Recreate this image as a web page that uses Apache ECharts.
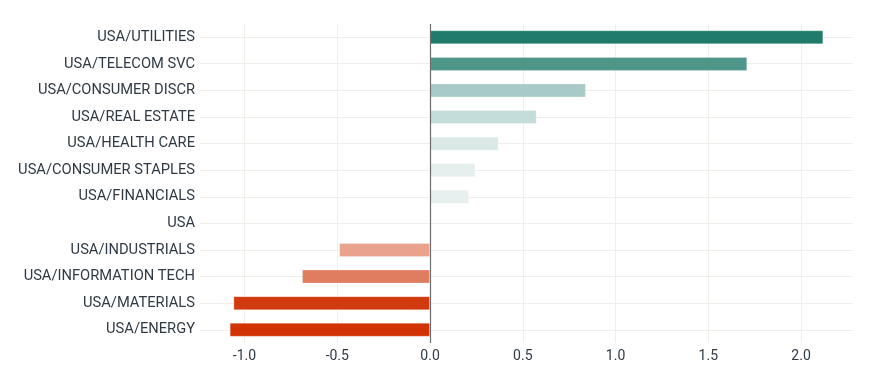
<!DOCTYPE html>
<html>
<head>
<meta charset="utf-8">
<script src="https://cdn.jsdelivr.net/npm/echarts@6/dist/echarts.min.js"></script>
<style>html,body{margin:0;padding:0;background:#fff;}#chart{width:870px;height:384px;}</style>
</head>
<body>
<div id="chart"></div>
<script>
var categories = ['USA/UTILITIES','USA/TELECOM SVC','USA/CONSUMER DISCR','USA/REAL ESTATE','USA/HEALTH CARE','USA/CONSUMER STAPLES','USA/FINANCIALS','USA','USA/INDUSTRIALS','USA/INFORMATION TECH','USA/MATERIALS','USA/ENERGY'];
var values = [2.12, 1.71, 0.84, 0.575, 0.37, 0.245, 0.21, 0, -0.49, -0.69, -1.06, -1.08];
var colors = ['#217b6d','#4f968a','#a8cbc7','#c5ddda','#dae8e7','#e4efee','#e7f0ef','#e7f0ef','#e9a28c','#e07c5f','#d13a0e','#d13304'];
var tickFont = 'Roboto, "DejaVu Sans", sans-serif';

var chart = echarts.init(document.getElementById('chart'), null, {renderer: 'canvas'});
chart.setOption({
  animation: false,
  backgroundColor: '#ffffff',
  grid: [
    {left: 200, right: 17, top: 24, bottom: 41},
    {left: 200, right: 17, top: 37, bottom: 54}
  ],
  xAxis: [
    {
      type: 'value', gridIndex: 0, min: -1.24, max: 2.28, splitNumber: 7,
      axisLine: {show: false}, axisTick: {show: false},
      axisLabel: {showMinLabel: false, showMaxLabel: false, color: '#2f3a44', fontSize: 14, fontFamily: tickFont, margin: 6,
        formatter: function (v) { return v.toFixed(1); }},
      splitLine: {show: true, showMinLine: false, showMaxLine: false, lineStyle: {color: '#f1eeea', width: 1}}
    },
    {
      type: 'value', gridIndex: 1, min: -1.24, max: 2.28, show: false
    }
  ],
  yAxis: [
    {
      type: 'category', gridIndex: 0, data: categories, inverse: true,
      axisLine: {show: false}, axisTick: {show: false},
      axisLabel: {color: '#2f3a44', fontSize: 14.7, fontFamily: tickFont, margin: 5},
      splitLine: {show: false}
    },
    {
      type: 'category', gridIndex: 1, data: categories, inverse: true, boundaryGap: false,
      axisLine: {show: false}, axisTick: {show: false}, axisLabel: {show: false},
      splitLine: {show: true, lineStyle: {color: '#f1eeea', width: 1}}
    }
  ],
  series: [
    {
      type: 'bar', xAxisIndex: 0, yAxisIndex: 0, barWidth: 14, z: 3,
      data: values.map(function (v, i) {
        return {value: v, itemStyle: {color: colors[i], borderColor: 'rgba(255,255,255,0.25)', borderWidth: 1}};
      }),
      markLine: {
        silent: true, symbol: 'none', label: {show: false},
        lineStyle: {color: '#6b6e70', width: 1.2, type: 'solid'},
        data: [{xAxis: 0}]
      }
    }
  ]
});
</script>
</body>
</html>
